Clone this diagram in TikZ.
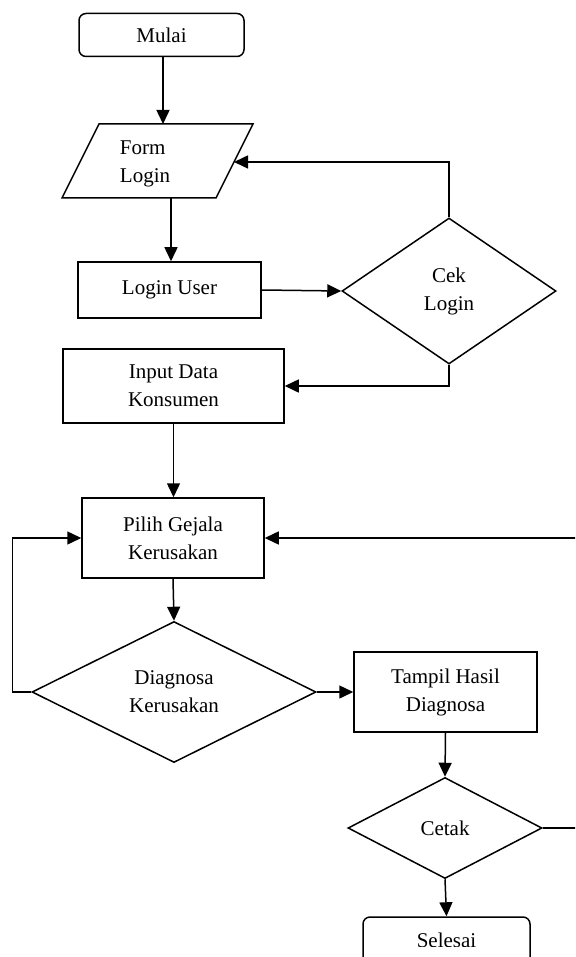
\documentclass[tikz,border=0pt]{standalone}
\usepackage{fontspec}
\setmainfont{Liberation Serif}
\usetikzlibrary{arrows.meta,shapes.geometric}
\begin{document}
\begin{tikzpicture}[x=1pt,y=-1pt,
  txt/.style={font=\fontsize{21}{28}\selectfont, align=center, inner sep=0pt},
  base/.style={txt, draw, line width=1.5pt},
  proc/.style={base, rectangle},
  term/.style={base, rectangle, rounded corners=7pt},
  decide/.style={base, diamond},
  flow/.style={line width=1.5pt, -{Triangle[length=14pt,width=13pt]}},
  plain/.style={line width=1.5pt, line join=miter}]

\useasboundingbox (0,0) rectangle (575,957);
\clip (0,0) rectangle (575,957);

% terminals and process boxes
\node[term, minimum width=165pt, minimum height=43pt] (mulai) at (161.5,35) {Mulai};
\node[proc, minimum width=183pt, minimum height=56pt] (login) at (169.5,290) {Login User};
\node[proc, minimum width=221pt, minimum height=74pt] (input) at (173.5,386) {Input Data\\Konsumen};
\node[proc, minimum width=182pt, minimum height=80pt] (pilih) at (173,538) {Pilih Gejala\\Kerusakan};
\node[proc, minimum width=183pt, minimum height=80pt] (tampil) at (445.5,692) {Tampil Hasil\\Diagnosa};
\node[term, minimum width=167pt, minimum height=50pt] (selesai) at (446.5,942) {};
% the end label is cut off by its text frame
\begin{scope}
  \clip (363,917) rectangle (530,946);
  \node[txt] (selesaitext) at (446.5,940) {Selesai};
\end{scope}

% decisions
\node[decide, minimum width=214pt, minimum height=146pt] (cek) at (449,291) {Cek\\Login};
\node[decide, minimum width=284pt, minimum height=141pt] (diag) at (174,692) {Diagnosa\\Kerusakan};
\node[decide, minimum width=194pt, minimum height=101pt] (cetak) at (445,828) {Cetak};

% input/output parallelogram
\draw[plain] (99,124) -- (253,124) -- (216,198) -- (62,198) -- cycle;
\node[txt, align=left] (form) at (145,164) {Form\\Login};
\coordinate (formtop) at (163,124);
\coordinate (formright) at (234,162);
\coordinate (formbot) at (171,198);

% connectors
\draw[flow] (mulai.south -| formtop) -- (formtop);
\draw[flow] (formbot) -- (login.north -| formbot);
\draw[flow] (login.east) -- (cek.west);
\draw[flow] (cek.north) |- (formright);
\draw[flow] (cek.south) |- (input.east);
\draw[flow] (input.south) -- (input.south |- pilih.north);
\draw[flow] (pilih.south) -- (diag.north);
\draw[flow] (diag.west) -- ++(-19,0) |- (pilih.west);
\draw[flow] (diag.east) -- (tampil.west);
\draw[flow] (tampil.south) -- (cetak.north);
\draw[flow] (cetak.south) -- (selesai.north);
\draw[flow] (cetak.east) -- ++(45,0) |- (pilih.east);
\end{tikzpicture}
\end{document}
